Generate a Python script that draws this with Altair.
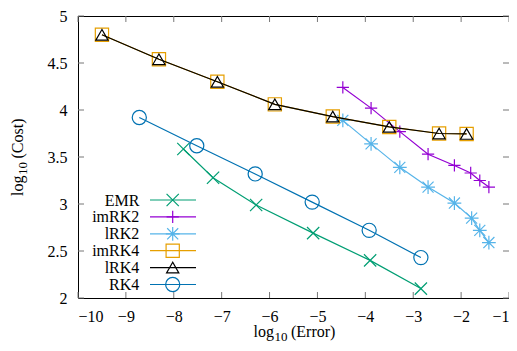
import altair as alt
import pandas as pd

# ---- data ----
series = ["EMR", "imRK2", "lRK2", "imRK4", "lRK4", "RK4"]
colors = ["#009e73", "#9400d3", "#56b4e9", "#e69f00", "#000000", "#0072b2"]

emr_x = [-7.80, -7.18, -6.28, -5.09, -3.90, -2.84]
emr_y = [3.585, 3.28, 2.99, 2.69, 2.40, 2.10]

imrk2_x = [-4.47, -3.88, -3.28, -2.69, -2.14, -1.80, -1.61, -1.42]
imrk2_y = [4.24, 4.02, 3.77, 3.53, 3.41, 3.33, 3.25, 3.18]

lrk2_x = [-4.47, -3.88, -3.28, -2.69, -2.14, -1.78, -1.61, -1.42]
lrk2_y = [3.89, 3.64, 3.39, 3.18, 3.01, 2.85, 2.72, 2.59]

imrk4_x = [-9.50, -8.31, -7.09, -5.89, -4.68, -3.50, -2.46, -1.885]
imrk4_y = [4.80, 4.54, 4.30, 4.06, 3.93, 3.82, 3.75, 3.745]

lrk4_x = [-9.50, -8.31, -7.09, -5.89, -4.68, -3.50, -2.46, -1.885]
lrk4_y = [4.80, 4.54, 4.30, 4.06, 3.93, 3.82, 3.75, 3.745]

rk4_x = [-8.72, -7.52, -6.30, -5.11, -3.92, -2.84]
rk4_y = [3.92, 3.62, 3.32, 3.02, 2.72, 2.43]

x_ticks = [-10, -9, -8, -7, -6, -5, -4, -3, -2, -1]
y_ticks = [2, 2.5, 3, 3.5, 4, 4.5, 5]

x_title = ["log", "10", "(Error)"]
y_title = ["log", "10", "(Cost)"]

# ---- styling ----
W, H = 431, 282
FONT = "Liberation Serif"
FS = 16
SUB = 13
shapes = [
    "M-1,-1L1,1M-1,1L1,-1",                                 # x
    "M-1,0L1,0M0,-1L0,1",                                   # +
    "M-1,0L1,0M0,-1L0,1M-0.8,-0.8L0.8,0.8M-0.8,0.8L0.8,-0.8",  # *
    "square",
    "triangle-up",
    "circle",
]
sizes = [150, 150, 190, 175, 150, 200]

xs = [emr_x, imrk2_x, lrk2_x, imrk4_x, lrk4_x, rk4_x]
ys = [emr_y, imrk2_y, lrk2_y, imrk4_y, lrk4_y, rk4_y]

xscale = alt.Scale(domain=[-10, -1], nice=False, zero=False)
yscale = alt.Scale(domain=[2, 5], nice=False, zero=False)
xaxis = alt.Axis(values=x_ticks, ticks=False, domain=False, grid=False,
                 labelExpr="replace(toString(datum.value), '-', '\u2212')",
                 labelPadding=10, title="")
yaxis = alt.Axis(values=y_ticks, ticks=False, domain=False, grid=False,
                 labelExpr="toString(datum.value)",
                 labelPadding=11, title="")

xenc = alt.X("x:Q", scale=xscale, axis=xaxis)
yenc = alt.Y("y:Q", scale=yscale, axis=yaxis)

layers = []

# inward ticks on all four sides
xt = pd.DataFrame({"x": x_ticks})
yt = pd.DataFrame({"y": y_ticks})
tick_style = dict(color="#777777", strokeWidth=1)
layers.append(alt.Chart(xt).mark_rule(**tick_style).encode(x=xenc, y=alt.value(H), y2=alt.value(H - 6)))
layers.append(alt.Chart(xt).mark_rule(**tick_style).encode(x=xenc, y=alt.value(0), y2=alt.value(6)))
layers.append(alt.Chart(yt).mark_rule(**tick_style).encode(y=yenc, x=alt.value(0), x2=alt.value(6)))
layers.append(alt.Chart(yt).mark_rule(**tick_style).encode(y=yenc, x=alt.value(W), x2=alt.value(W - 6)))

# series
for name, col, shp, sz, sx, sy in zip(series, colors, shapes, sizes, xs, ys):
    df = pd.DataFrame({"x": sx, "y": sy})
    base = alt.Chart(df)
    layers.append(base.mark_line(color=col, strokeWidth=1.2).encode(x=xenc, y=yenc))
    layers.append(base.mark_point(color=col, filled=False, strokeWidth=1.2, shape=shp, size=sz, opacity=1)
                  .encode(x=xenc, y=yenc))

one = alt.Data(values=[{"a": 1}])

# legend (inside plot, bottom-left)
for i, (name, col, shp, sz) in enumerate(zip(series, colors, shapes, sizes)):
    yy = 184 + i * 16.9
    layers.append(alt.Chart(one).mark_rule(color=col, strokeWidth=1.2)
                  .encode(x=alt.value(72), x2=alt.value(118), y=alt.value(yy)))
    layers.append(alt.Chart(one).mark_point(color=col, filled=False, strokeWidth=1.2, shape=shp, size=sz, opacity=1)
                  .encode(x=alt.value(94.7), y=alt.value(yy)))
    layers.append(alt.Chart(one).mark_text(align="right", baseline="middle", font=FONT, fontSize=FS, color="black")
                  .encode(x=alt.value(61.3), y=alt.value(yy + 0.5), text=alt.value(name)))

# axis titles with a real subscript
offs = [0, 21.0, 37.5]
fsz = [FS, SUB, FS]
drop = [0, 4, 0]
for t, o, f, d in zip(x_title, offs, fsz, drop):
    layers.append(alt.Chart(one).mark_text(align="left", baseline="alphabetic", font=FONT, fontSize=f, color="black")
                  .encode(x=alt.value(175.5 + o), y=alt.value(321 + d), text=alt.value(t)))
for t, o, f, d in zip(y_title, offs, fsz, drop):
    layers.append(alt.Chart(one).mark_text(align="left", baseline="alphabetic", font=FONT, fontSize=f,
                                           color="black", angle=270)
                  .encode(x=alt.value(-55 + d), y=alt.value(180 - o), text=alt.value(t)))

chart = alt.layer(*layers).properties(
    width=W, height=H,
    autosize=alt.AutoSizeParams(type="none"),
    padding={"left": 70, "top": 8, "right": 0, "bottom": 45},
).configure_view(stroke="black", strokeWidth=1).configure_axis(
    labelFont=FONT, titleFont=FONT, labelFontSize=FS, titleFontSize=FS,
    labelColor="black", titleColor="black", titleFontWeight="normal",
)

chart.save("out.html", embed_options={"renderer": "svg", "actions": False})
